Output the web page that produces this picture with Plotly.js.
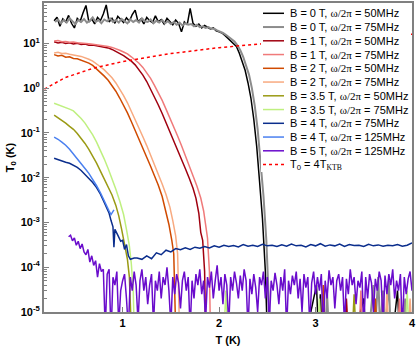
<!DOCTYPE html>
<html>
<head>
<meta charset="utf-8">
<script src="https://cdn.plot.ly/plotly-3.0.1.min.js"></script>
<style>body{margin:0;} #plot{width:416px;height:346px;}</style>
</head>
<body>
<div id="plot"></div>
<script>
// Noise temperature vs T

// B = 0 T, 50MHz
var tB0a = [0.29,0.32,0.35,0.38,0.41,0.44,0.47,0.50,0.53,0.56,0.59,0.62,0.65,0.68,0.71,0.74,0.77,0.80,0.83,0.86,0.89,0.92,0.95,0.98,1.01,1.04,1.07,1.10,1.13,1.16,1.19,1.22,1.25,1.28,1.31,1.34,1.37,1.40,1.43,1.46,1.49,1.52,1.55,1.58,1.61,1.64,1.67,1.70,1.73,1.76,1.79,1.82,1.85,1.88,1.91,1.94,1.97,2.00,2.03,2.06,2.09,2.12,2.15,2.18,2.21,2.24,2.27,2.30,2.33,2.36,2.39,2.42,2.45,2.48,2.50,
  2.55,2.90,3.01,3.03,3.05,3.07,3.40,3.50,3.52,3.80,3.85,3.87,4.00];
var vB0a = [32,38,24,35,30,42,28,22,36,31,48,70,30,35,27,38,32,45,72,30,36,28,40,33,29,37,31,44,55,30,35,27,38,32,29,41,30,34,27,36,30,26,33,28,18,30,26,60,28,24,27,22,25,23,21,22,19,18,17,15,13,11.5,10,8.5,6,4,2.5,1.3,0.6,0.2,0.05,0.008,0.0012,0.00008,0.000003,
  3e-6,3e-6,4e-5,3e-6,2.5e-5,3e-6,3e-6,2e-5,3e-6,3e-6,3e-5,3e-6,3e-6];

// B = 0 T, 75MHz
var tB0b = [0.30,0.33,0.36,0.39,0.42,0.45,0.48,0.51,0.54,0.57,0.60,0.63,0.66,0.69,0.72,0.75,0.78,0.81,0.84,0.87,0.90,0.93,0.96,0.99,1.02,1.05,1.08,1.11,1.14,1.17,1.20,1.23,1.26,1.29,1.32,1.35,1.38,1.41,1.44,1.47,1.50,1.53,1.56,1.59,1.62,1.65,1.68,1.71,1.74,1.77,1.80,1.83,1.86,1.89,1.92,1.95,1.98,2.01,2.04,2.07,2.10,2.13,2.16,2.19,2.22,2.25,2.28,2.31,2.34,2.37,2.40,2.43,2.46,2.49,2.51,2.53,
  2.70,3.10,3.12,3.14,3.55,3.60,3.62,3.65,3.67,3.70,3.72,3.76,3.78,3.90,3.93,3.95,4.00];
var vB0b = [30,34,28,33,29,36,31,27,33,30,35,29,32,38,30,33,28,34,31,36,30,33,29,35,31,28,34,30,33,29,36,31,30,34,28,32,29,33,28,31,27,30,26,29,25,28,26,27,24,26,23,24,22,23,21,21,19.5,18.5,17,15.5,14,12.5,11,9,7,5,3.3,2,1.0,0.4,0.12,0.025,0.004,0.0004,0.00003,0.000003,
  3e-6,3e-6,2.5e-5,3e-6,3e-6,4e-5,5e-6,6e-5,4e-6,3e-5,3e-6,5e-5,3e-6,3e-6,2e-5,3e-6,3e-6];

// B = 1 T, 50MHz
var tB1a = [0.29,0.33,0.37,0.41,0.45,0.49,0.53,0.57,0.61,0.65,0.69,0.73,0.77,0.81,0.85,0.89,0.93,0.97,1.01,1.05,1.09,1.13,1.17,1.21,1.25,1.29,1.33,1.37,1.41,1.45,1.49,1.53,1.57,1.61,1.65,1.69,1.73,1.76,1.79,1.81,1.83,1.85,1.86,
  2.20,3.30,3.32,3.34,4.00];
var vB1a = [10.8,10.2,10.6,9.9,10.3,9.7,10.0,9.4,9.6,9.1,9.2,8.8,8.6,8.3,7.9,7.3,6.6,6.0,5.3,4.6,4.0,3.3,2.6,1.95,1.4,0.95,0.65,0.42,0.27,0.17,0.11,0.068,0.042,0.026,0.016,0.0098,0.0058,0.0035,0.0016,0.0006,0.0004,0.00008,0.000004,
  3e-6,3e-6,2e-5,3e-6,3e-6];

// B = 1 T, 75MHz
var tB1b = [0.29,0.33,0.37,0.41,0.45,0.49,0.53,0.57,0.61,0.65,0.69,0.73,0.77,0.81,0.85,0.89,0.93,0.97,1.01,1.05,1.09,1.13,1.17,1.21,1.25,1.29,1.33,1.37,1.41,1.45,1.49,1.53,1.57,1.61,1.65,1.69,1.73,1.77,1.81,1.84,1.86,1.88,1.90,1.91,
  2.40,3.45,3.47,3.49,3.85,3.87,3.89,4.00];
var vB1b = [11.2,11.5,10.8,11.0,10.6,10.7,10.3,10.2,9.9,9.8,9.5,9.3,9.1,8.8,8.5,8.1,7.6,7.0,6.4,5.8,5.0,4.3,3.6,2.9,2.2,1.65,1.15,0.8,0.53,0.34,0.22,0.135,0.085,0.052,0.031,0.019,0.011,0.0065,0.0035,0.0018,0.0009,0.00045,0.00008,0.000004,
  3e-6,3e-6,3e-5,3e-6,3e-6,2e-5,3e-6,3e-6];

// B = 2 T, 50MHz
var tB2a = [0.29,0.33,0.37,0.41,0.45,0.49,0.53,0.57,0.61,0.65,0.69,0.73,0.77,0.81,0.85,0.89,0.93,0.97,1.01,1.05,1.09,1.13,1.17,1.21,1.25,1.29,1.33,1.37,1.41,1.45,1.48,1.51,1.53,1.55,
  2.60,3.06,3.08,3.10,3.60,3.62,3.64,4.00];
var vB2a = [5.6,5.2,5.4,4.9,5.0,4.6,4.5,4.2,3.9,3.6,3.2,2.7,2.25,1.85,1.5,1.15,0.85,0.6,0.42,0.28,0.18,0.115,0.075,0.046,0.029,0.018,0.011,0.0068,0.0038,0.0017,0.0009,0.0004,0.0002,0.000004,
  3e-6,3e-6,4e-5,3e-6,3e-6,2e-5,3e-6,3e-6];

// B = 2 T, 75MHz
var tB2b = [0.29,0.33,0.37,0.41,0.45,0.49,0.53,0.57,0.61,0.65,0.69,0.73,0.77,0.81,0.85,0.89,0.93,0.97,1.01,1.05,1.09,1.13,1.17,1.21,1.25,1.29,1.33,1.37,1.41,1.45,1.49,1.52,1.55,1.57,1.59,
  2.80,3.72,3.74,3.76,3.96,3.98,4.00];
var vB2b = [6.1,6.3,5.9,6.0,5.7,5.6,5.3,5.1,4.8,4.4,4.0,3.5,3.0,2.55,2.1,1.7,1.3,0.95,0.68,0.47,0.31,0.2,0.13,0.082,0.052,0.032,0.02,0.012,0.0072,0.0042,0.0022,0.0011,0.0005,0.0002,0.000004,
  3e-6,3e-6,3e-5,3e-6,3e-6,2e-5,3e-6];

// B = 3.5 T, 50MHz
var tB35a = [0.29,0.33,0.37,0.41,0.45,0.49,0.53,0.57,0.61,0.65,0.69,0.73,0.77,0.81,0.85,0.89,0.93,0.96,0.99,1.02,1.05,1.07,1.09,
  2.50,3.38,3.40,3.42,4.00];
var vB35a = [0.25,0.22,0.19,0.165,0.14,0.12,0.097,0.077,0.058,0.043,0.031,0.021,0.014,0.0095,0.0063,0.0041,0.0024,0.0014,0.0007,0.0003,0.00015,0.00006,0.000004,
  3e-6,3e-6,2.5e-5,3e-6,3e-6];

// B = 3.5 T, 75MHz
var tB35b = [0.29,0.33,0.37,0.41,0.45,0.49,0.53,0.57,0.61,0.65,0.69,0.73,0.77,0.81,0.85,0.89,0.93,0.97,1.01,1.04,1.07,1.09,1.11,1.12,
  2.05,2.07,2.09,3.02,3.04,3.06,3.93,3.95,3.97,4.00];
var vB35b = [0.46,0.43,0.40,0.37,0.34,0.31,0.26,0.21,0.165,0.125,0.09,0.062,0.041,0.026,0.016,0.0095,0.0055,0.003,0.0015,0.0007,0.0003,0.00012,0.00003,0.000004,
  3e-6,3e-5,3e-6,3e-6,2e-5,3e-6,3e-6,3e-5,3e-6,3e-6];

// B = 4 T, 75MHz
var tB4a = [0.29,0.33,0.37,0.41,0.45,0.49,0.53,0.57,0.61,0.65,0.69,0.73,0.77,0.80,0.83,0.86,0.88,0.90,0.91,0.92,0.95,0.98,1.00,1.02,1.04,1.06,1.08,1.10,1.12,
  1.15,1.20,1.25,1.30,1.35,1.40,1.45,1.50,1.55,1.60,1.65,1.70,1.75,1.80,1.85,1.90,1.95,2.00,2.05,2.10,2.15,2.20,2.25,2.30,2.35,2.40,2.45,2.50,2.55,2.60,2.65,2.70,2.75,2.80,2.85,2.90,2.95,3.00,3.05,3.10,3.15,3.20,3.25,3.30,3.35,3.40,3.45,3.50,3.55,3.60,3.65,3.70,3.75,3.80,3.85,3.90,3.95,4.00];
var vB4a = [0.027,0.025,0.024,0.022,0.021,0.019,0.017,0.0145,0.012,0.0098,0.0078,0.006,0.0043,0.0031,0.0023,0.0016,0.0011,0.0008,0.00028,0.0007,0.00052,0.00038,0.0004,0.00025,0.00032,0.00018,0.00015,0.000155,0.00016,
  1.6e-4,1.5e-4,1.8e-4,1.55e-4,2.1e-4,1.9e-4,2.4e-4,2.2e-4,2.6e-4,2.45e-4,2.7e-4,2.5e-4,2.8e-4,2.65e-4,2.9e-4,2.7e-4,3.0e-4,2.8e-4,3.1e-4,2.9e-4,3.05e-4,2.85e-4,3.2e-4,2.95e-4,3.1e-4,2.9e-4,3.25e-4,3.0e-4,3.1e-4,2.9e-4,3.15e-4,2.95e-4,3.3e-4,3.0e-4,3.1e-4,2.85e-4,3.2e-4,3.0e-4,3.35e-4,2.95e-4,3.15e-4,3.0e-4,3.3e-4,2.9e-4,3.2e-4,3.05e-4,3.1e-4,2.9e-4,3.25e-4,3.0e-4,3.15e-4,2.95e-4,3.1e-4,3.0e-4,3.2e-4,2.95e-4,3.1e-4,3.5e-4];

// B = 4 T, 125MHz
var tB4b = [0.29,0.33,0.37,0.41,0.45,0.49,0.53,0.57,0.61,0.65,0.69,0.73,0.77,0.80,0.83,0.86,0.88,0.90,0.91];
var vB4b = [0.08,0.072,0.062,0.053,0.043,0.034,0.027,0.021,0.016,0.0125,0.0092,0.0066,0.0046,0.0033,0.0024,0.0018,0.0015,0.0017,0.0019];

// B = 5 T, 125MHz
var tB5 = [0.44,0.46,0.48,0.50,0.52,0.54,0.56,0.58,0.60,0.62,
  0.64,0.66,0.68,0.70,0.72,0.74,0.76,0.78,0.80,0.82,
  0.84,0.86,0.88,0.90,0.92,0.94,0.96,0.98,1.00,1.02,
  1.04,1.06,1.08,1.10,1.12,1.14,1.16,1.18,1.20,1.22,
  1.24,1.26,1.28,1.30,1.32,1.34,1.36,1.38,1.40,1.42,
  1.44,1.46,1.48,1.50,1.52,1.54,1.56,1.58,1.60,1.62,
  1.64,1.66,1.68,1.70,1.72,1.74,1.76,1.78,1.80,1.82,
  1.84,1.86,1.88,1.90,1.92,1.94,1.96,1.98,2.00,2.02,
  2.04,2.06,2.08,2.10,2.12,2.14,2.16,2.18,2.20,2.22,
  2.24,2.26,2.28,2.30,2.32,2.34,2.36,2.38,2.40,2.42,
  2.44,2.46,2.48,2.50,2.52,2.54,2.56,2.58,2.60,2.62,
  2.64,2.66,2.68,2.70,2.72,2.74,2.76,2.78,2.80,2.82,
  2.84,2.86,2.88,2.90,2.92,2.94,2.96,2.98,3.00,3.02,
  3.04,3.06,3.08,3.10,3.12,3.14,3.16,3.18,3.20,3.22,
  3.24,3.26,3.28,3.30,3.32,3.34,3.36,3.38,3.40,3.42,
  3.44,3.46,3.48,3.50,3.52,3.54,3.56,3.58,3.60,3.62,
  3.64,3.66,3.68,3.70,3.72,3.74,3.76,3.78,3.80,3.82,
  3.84,3.86,3.88,3.90,3.92,3.94,3.96,3.98,4.00];
var vB5 = [4.8e-4,5.2e-4,3.9e-4,4.5e-4,3.1e-4,3.8e-4,2.6e-4,3.3e-4,2.2e-4,1.9e-4,
  2.5e-4,1.3e-4,1.8e-4,1.1e-4,1.4e-4,6e-5,1.2e-4,8e-5,9e-5,4e-6,
  7e-5,9e-5,3e-6,6e-5,4e-5,8e-5,5e-6,3e-5,5e-5,7e-5,
  2e-5,4e-6,6e-5,3e-5,8e-5,4e-5,6e-6,5e-5,9e-5,3e-5,
  6e-5,1.5e-5,4e-5,7e-5,5e-6,5e-5,3e-5,8e-5,2e-5,6e-5,
  4e-5,1e-4,3e-5,5e-6,6e-5,2.5e-5,7e-5,4.5e-5,1.2e-5,5e-5,
  8e-5,3e-5,6e-5,4e-6,5e-5,2e-5,7e-5,4e-5,9e-5,2.5e-5,
  5e-5,6e-6,6e-5,3.5e-5,8e-5,2e-5,5e-5,1.1e-4,3e-5,6e-5,
  1.5e-5,7e-5,4e-5,5e-6,6e-5,3e-5,8e-5,4.5e-5,2e-5,6.5e-5,
  3e-5,9e-5,5e-5,4e-6,5.5e-5,2.5e-5,7e-5,3.5e-5,1e-5,6e-5,
  4e-5,8e-5,2e-5,6e-5,5e-6,5e-5,3e-5,7.5e-5,4e-5,1.5e-5,
  6e-5,3e-5,9e-5,4e-6,5e-5,2.5e-5,6.5e-5,4e-5,8e-5,2e-5,
  5.5e-5,1e-5,7e-5,3.5e-5,6e-5,5e-6,4.5e-5,8e-5,2.5e-5,6e-5,
  3e-5,7e-5,4e-6,5e-5,2e-5,8.5e-5,4e-5,6e-5,1.2e-5,5e-5,
  7e-5,3e-5,6e-5,5e-6,5.5e-5,2.5e-5,9e-5,4e-5,6e-5,1.5e-5,
  5e-5,3.5e-5,8e-5,4e-6,6e-5,2e-5,7e-5,4.5e-5,1e-5,5.5e-5,
  3e-5,8e-5,5e-5,6e-6,6.5e-5,2.5e-5,7e-5,4e-5,9e-5,2e-5,
  5e-5,3e-5,7e-5,4e-6,6e-5,2.5e-5,5.5e-5,8e-5,3e-5];

// T0 = 4 T_KTB reference line
var tRef = [0.19,0.40,0.70,1.00,1.50,2.00,2.50,3.00,3.50,4.00];
var vRef = [0.95,1.7,2.8,3.9,5.9,8.0,10,12,14,16];

var omega = '<span style="font-family:Liberation Serif">ω/2π</span>';

var series = [
  {x: tB0a, y: vB0a, name: 'B = 0 T, ' + omega + ' = 50MHz', color: '#000000', width: 1.5},
  {x: tB0b, y: vB0b, name: 'B = 0 T, ' + omega + ' = 75MHz', color: '#8c8c8c', width: 2},
  {x: tB1a, y: vB1a, name: 'B = 1 T, ' + omega + ' = 50MHz', color: '#a0000f', width: 1.5},
  {x: tB1b, y: vB1b, name: 'B = 1 T, ' + omega + ' = 75MHz', color: '#f07a7a', width: 1.5},
  {x: tB2a, y: vB2a, name: 'B = 2 T, ' + omega + ' = 50MHz', color: '#d04a00', width: 1.5},
  {x: tB2b, y: vB2b, name: 'B = 2 T, ' + omega + ' = 75MHz', color: '#f8aa80', width: 1.5},
  {x: tB35a, y: vB35a, name: 'B = 3.5 T, ' + omega + ' = 50MHz', color: '#9a9a14', width: 1.5},
  {x: tB35b, y: vB35b, name: 'B = 3.5 T, ' + omega + ' = 75MHz', color: '#bff080', width: 1.5},
  {x: tB4a, y: vB4a, name: 'B = 4 T, ' + omega + ' = 75MHz', color: '#0a2d8c', width: 1.5},
  {x: tB4b, y: vB4b, name: 'B = 4 T, ' + omega + ' = 125MHz', color: '#4a80f0', width: 1.5},
  {x: tB5, y: vB5, name: 'B = 5 T, ' + omega + ' = 125MHz', color: '#6a0ccc', width: 1.5},
  {x: tRef, y: vRef, name: 'T<sub>0</sub> = 4T<sub><span style="font-family:Liberation Serif">KTB</span></sub>', color: '#ff0000', width: 1.5, dash: 'dot'}
];

var data = series.map(function(s) {
  return {
    x: s.x, y: s.y, type: 'scatter', mode: 'lines', name: s.name,
    line: {color: s.color, width: s.width, dash: s.dash || 'solid'},
    showlegend: false
  };
});

// plot area in pixels: x 44..412, y 3..312
function px2x(px) { return (px - 44) / 368; }
function py2y(py) { return (312 - py) / 309; }

// hand made legend (the built-in one spaces rows too far apart)
var shapes = [{type: 'rect', xref: 'paper', yref: 'paper', layer: 'above',
  x0: px2x(261), x1: px2x(411), y0: py2y(172), y1: py2y(4),
  fillcolor: '#ffffff', line: {width: 0}}];
var annotations = [];
series.forEach(function(s, i) {
  var yc = py2y(13.3 + 13.75 * i);
  shapes.push({type: 'line', xref: 'paper', yref: 'paper', layer: 'above',
    x0: px2x(263), x1: px2x(284), y0: yc, y1: yc,
    line: {color: s.color, width: s.width, dash: s.dash || 'solid'}});
  annotations.push({xref: 'paper', yref: 'paper', x: px2x(288), y: yc,
    xanchor: 'left', yanchor: 'middle', showarrow: false, text: s.name,
    font: {family: 'Liberation Sans, Arial', size: 11, color: '#000'}});
});

var yTickVals = [1e-5, 1e-4, 1e-3, 1e-2, 1e-1, 1, 10];
var yTickText = ['10<sup>-5</sup>','10<sup>-4</sup>','10<sup>-3</sup>','10<sup>-2</sup>','10<sup>-1</sup>','10<sup>0</sup>','10<sup>1</sup>'];
var yMinor = [];
for (var e = -5; e <= 1; e++) {
  for (var m = 2; m <= 9; m++) yMinor.push(m * Math.pow(10, e));
}

var tickFont = {family: 'Liberation Sans, Arial', size: 11, color: '#000', weight: 'bold'};

var layout = {
  width: 416, height: 346,
  margin: {l: 44, r: 4, t: 3, b: 34},
  paper_bgcolor: '#fff', plot_bgcolor: '#fff',
  font: {family: 'Liberation Sans, Arial', size: 11, color: '#000'},
  xaxis: {
    range: [0.185, 4.0], tickvals: [1, 2, 3, 4], ticktext: ['1', '2', '3', '4'],
    ticks: 'inside', ticklen: 5, tickcolor: '#808080', tickwidth: 1,
    showline: true, linecolor: '#808080', linewidth: 2, mirror: true,
    showgrid: false, zeroline: false, tickfont: tickFont,
    title: {text: 'T (K)', font: {family: 'Liberation Sans, Arial', size: 11, weight: 'bold'}, standoff: 9}
  },
  yaxis: {
    type: 'log', range: [-5, 1.9], tickmode: 'array', tickvals: yTickVals, ticktext: yTickText,
    ticks: 'inside', ticklen: 5, tickcolor: '#808080', tickwidth: 1,
    minor: {tickmode: 'array', tickvals: yMinor, ticks: 'inside', ticklen: 3, tickcolor: '#808080', showgrid: false},
    showline: true, linecolor: '#808080', linewidth: 2, mirror: true,
    showgrid: false, zeroline: false, tickfont: tickFont,
    title: {text: 'T<sub>0</sub> (K)', font: {family: 'Liberation Sans, Arial', size: 11, weight: 'bold'}, standoff: 4}
  },
  shapes: shapes,
  annotations: annotations,
  showlegend: false
};

Plotly.newPlot('plot', data, layout, {staticPlot: true});
</script>
</body>
</html>
